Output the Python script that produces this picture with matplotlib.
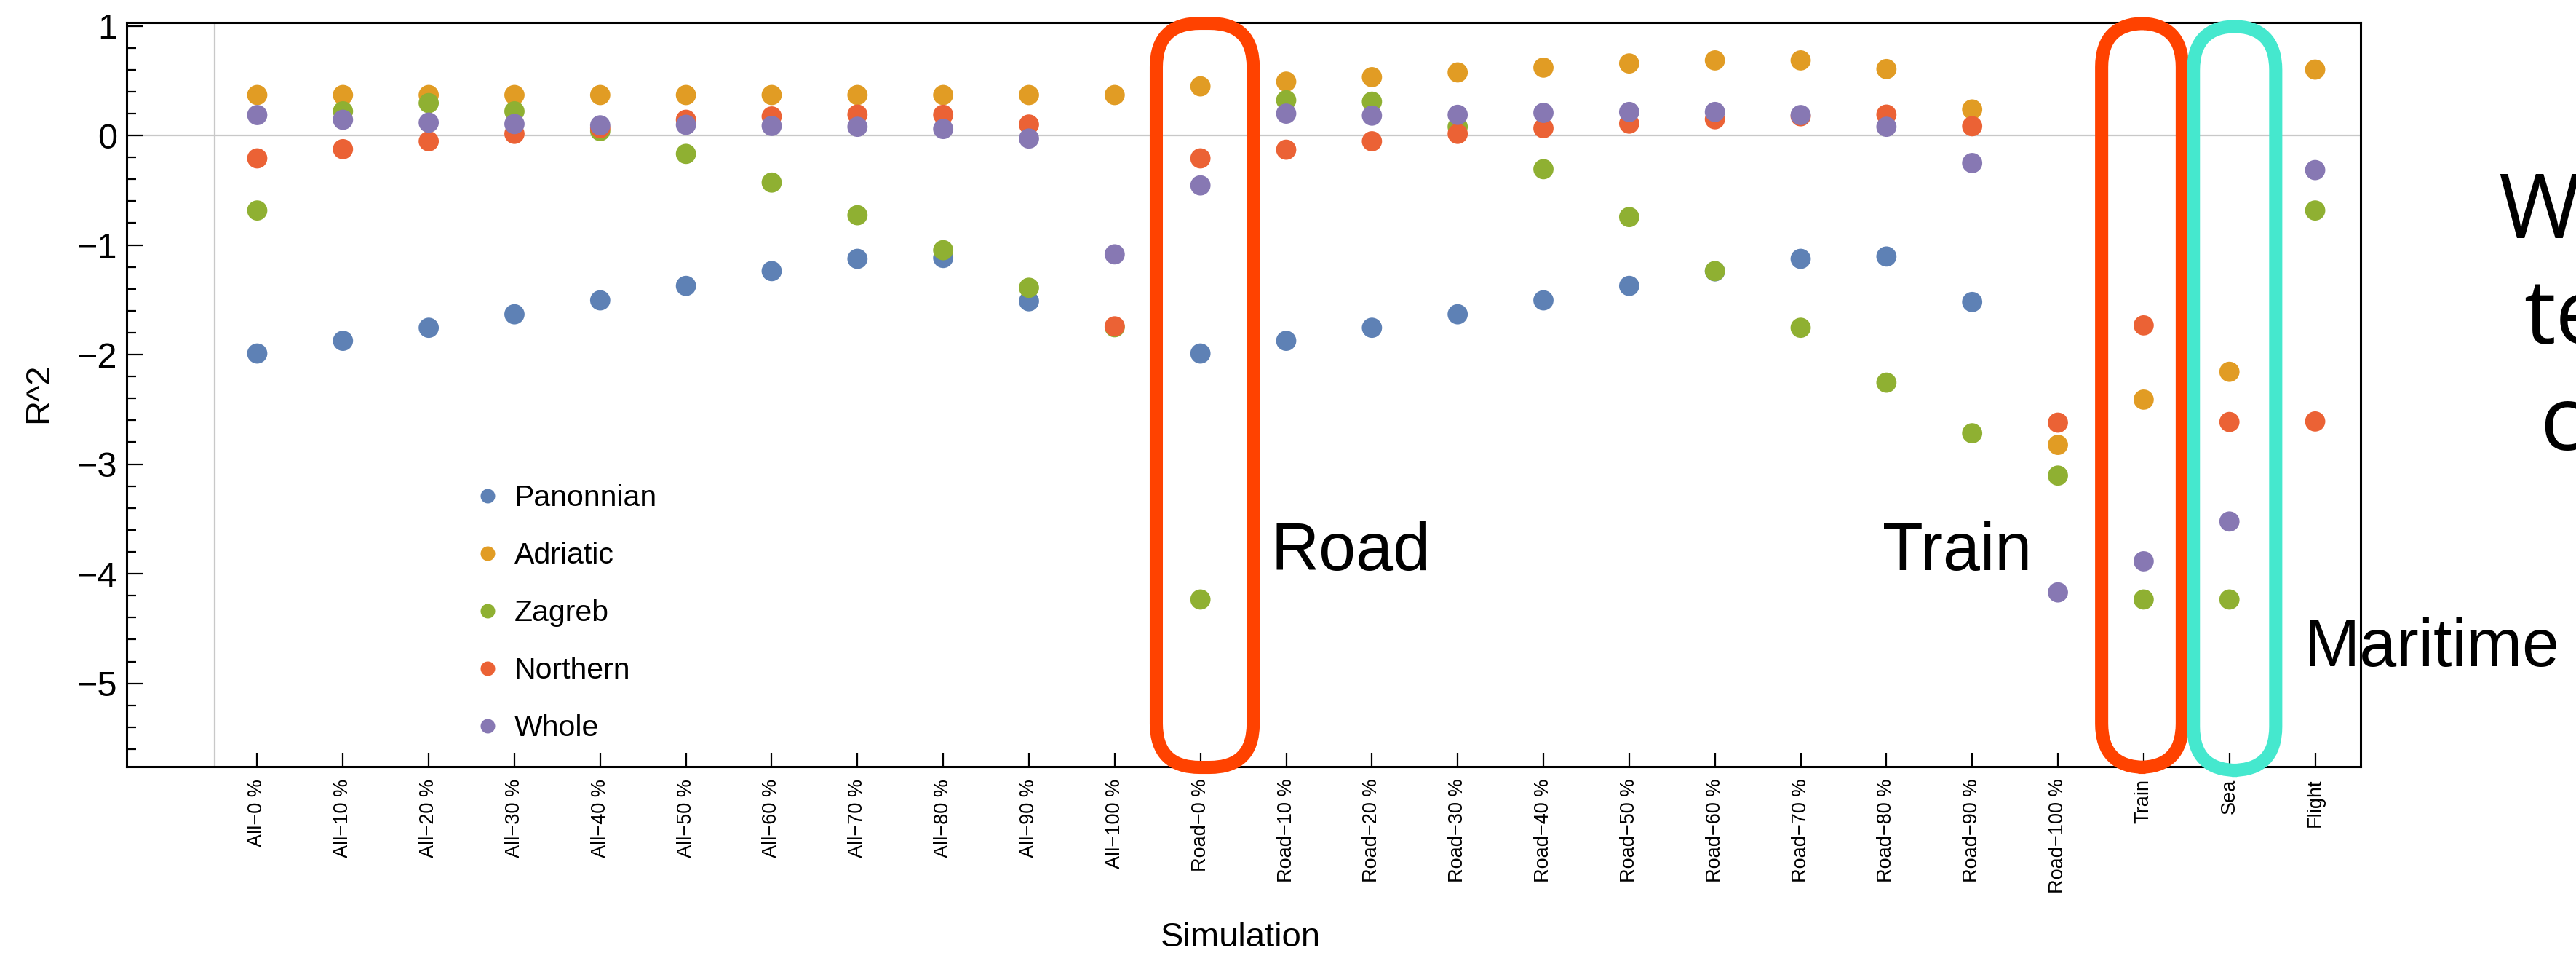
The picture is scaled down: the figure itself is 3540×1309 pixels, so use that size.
import numpy as np
import matplotlib
matplotlib.use("Agg")
import matplotlib.pyplot as plt
import matplotlib.transforms as mtransforms
from matplotlib import font_manager
from matplotlib.lines import Line2D
from matplotlib.patches import FancyBboxPatch
from matplotlib.ticker import MultipleLocator

nan = np.nan

####################################
# data : R^2 per region for each simulation
# nan = point outside the plot range
####################################
categories = ["All−0 %", "All−10 %", "All−20 %", "All−30 %", "All−40 %", "All−50 %",
              "All−60 %", "All−70 %", "All−80 %", "All−90 %", "All−100 %",
              "Road−0 %", "Road−10 %", "Road−20 %", "Road−30 %", "Road−40 %", "Road−50 %",
              "Road−60 %", "Road−70 %", "Road−80 %", "Road−90 %", "Road−100 %",
              "Train", "Sea", "Flight"]

panonnian = [-1.99, -1.874, -1.755, -1.632, -1.505, -1.373, -1.238, -1.126, -1.118, -1.513, nan,
             -1.99, -1.874, -1.755, -1.632, -1.505, -1.373, -1.24, -1.126, -1.105, -1.52, nan,
             nan, nan, nan]
adriatic = [0.369, 0.369, 0.369, 0.369, 0.369, 0.369, 0.369, 0.369, 0.369, 0.369, 0.369,
            0.448, 0.491, 0.532, 0.575, 0.619, 0.657, 0.685, 0.685, 0.606, 0.237, -2.824,
            -2.411, -2.157, 0.601]
zagreb = [-0.685, 0.22, 0.295, 0.22, 0.04, -0.168, -0.43, -0.728, -1.047, -1.39, -1.75,
          -4.235, 0.321, 0.308, 0.079, -0.308, -0.745, -1.238, -1.755, -2.256, -2.718, -3.104,
          -4.235, -4.235, -0.685]
northern = [-0.209, -0.125, -0.053, 0.015, 0.066, 0.143, 0.173, 0.19, 0.188, 0.099, -1.742,
            -0.209, -0.13, -0.053, 0.015, 0.066, 0.108, 0.148, 0.175, 0.19, 0.084, -2.621,
            -1.733, -2.615, -2.61]
whole = [0.186, 0.143, 0.117, 0.104, 0.092, 0.097, 0.087, 0.079, 0.059, -0.028, -1.085,
         -0.456, 0.199, 0.181, 0.188, 0.206, 0.214, 0.214, 0.186, 0.079, -0.252, -4.17,
         -3.886, -3.523, -0.316]

series_names = ["Panonnian", "Adriatic", "Zagreb", "Northern", "Whole"]
series_colors = ["#5E81B5", "#E19C24", "#8FB032", "#EB6235", "#8778B3"]

W, H, DPI = 3540, 1309, 100

plt.rcParams["font.family"] = ["Liberation Sans", "DejaVu Sans"]
fonts = {f.name for f in font_manager.fontManager.ttflist}
if "Liberation Sans Narrow" in fonts:
    tick_font, tick_size = "Liberation Sans Narrow", 24
else:
    tick_font, tick_size = "Liberation Sans", 19.5
side_font = "Open Sans" if "Open Sans" in fonts else "Liberation Sans"

fig = plt.figure(figsize=(W / DPI, H / DPI), dpi=DPI)
ax = fig.add_axes([174 / W, 1 - 1053 / H, (3244 - 174) / W, (1053 - 31) / H])

x = np.arange(1, len(categories) + 1)
xmin, xmax = -0.523, 25.53
ymin, ymax = -5.76, 1.03

# axes through the origin
ax.axhline(0, color="#C8C8C8", lw=1.6, zorder=1)
ax.axvline(0.5, color="#C8C8C8", lw=1.6, zorder=1)

for vals, c in zip([panonnian, adriatic, zagreb, northern, whole], series_colors):
    ax.scatter(x, vals, s=400, color=c, edgecolors="none", zorder=3)

ax.set_xlim(xmin, xmax)
ax.set_ylim(ymin, ymax)
ax.set_xticks(x)
ax.set_xticklabels(categories, rotation=90, fontsize=tick_size, family=tick_font)
ax.set_yticks(np.arange(-5, 2, 1))
ax.yaxis.set_minor_locator(MultipleLocator(0.2))

ax.tick_params(axis="y", which="major", direction="in", length=16.5, width=1.6,
               pad=9.4, labelsize=35)
ax.tick_params(axis="y", which="minor", direction="in", length=9.4, width=1.6)
ax.tick_params(axis="x", which="major", direction="in", length=13.7, width=1.6, pad=12)
ax.tick_params(which="both", top=False, right=False)
for sp in ax.spines.values():
    sp.set_linewidth(2.2)

# legend inside the plot, lower left
handles = [Line2D([], [], ls="none", marker="o", ms=14.4, mfc=c, mec="none")
           for c in series_colors]
ax.legend(handles, series_names, loc="upper left",
          bbox_to_anchor=(660 / W, 1 - 665 / H), bbox_transform=fig.transFigure,
          frameon=False, fontsize=29.5, handlelength=0.5, handletextpad=0.65,
          labelspacing=1.0, borderpad=0, borderaxespad=0)

fig.text(1705 / W, 1 - 1300 / H, "Simulation", fontsize=34, ha="center", va="baseline")
fig.text(53 / W, 1 - 540 / H, "R^2", fontsize=34, rotation=90, ha="center", va="center")

####################################
# hand drawn outlines around the transport groups
####################################
trans = mtransforms.blended_transform_factory(ax.transData, ax.transAxes)
ax_w_px = W * ax.get_position().width
ax_h_px = H * ax.get_position().height
px_per_x = ax_w_px / (xmax - xmin)


def outline(center, half, y0, y1, color):
    r = 60 / px_per_x
    box = FancyBboxPatch((center - half, y0), 2 * half, y1 - y0,
                         boxstyle="round,pad=0,rounding_size=%f" % r,
                         mutation_aspect=px_per_x / ax_h_px,
                         transform=trans, fill=False, ec=color, lw=13,
                         clip_on=False, zorder=5)
    ax.add_patch(box)


outline(x[categories.index("Road−0 %")] + 0.05, 0.565, -0.001, 0.999, "#FF4200")
outline(x[categories.index("Train")] - 0.02, 0.47, -0.001, 0.999, "#FF4200")
outline(x[categories.index("Sea")] + 0.06, 0.48, -0.005, 0.995, "#45E8CE")

fig.text(1747 / W, 1 - 783 / H, "Road", fontsize=66, ha="left", va="baseline")
fig.text(2587 / W, 1 - 783 / H, "Train", fontsize=66, ha="left", va="baseline")
fig.text(3167 / W, 1 - 915 / H, "Maritime", fontsize=66, ha="left", va="baseline")

# side caption, runs off the right edge
fig.text(3433 / W, 1 - 327 / H, "Whole", fontsize=88, family=side_font, ha="left", va="baseline")
fig.text(3468 / W, 1 - 472 / H, "territory", fontsize=88, family=side_font, ha="left", va="baseline")
fig.text(3490 / W, 1 - 618 / H, "coverage", fontsize=88, family=side_font, ha="left", va="baseline")

fig.savefig("out.png", dpi=DPI)
